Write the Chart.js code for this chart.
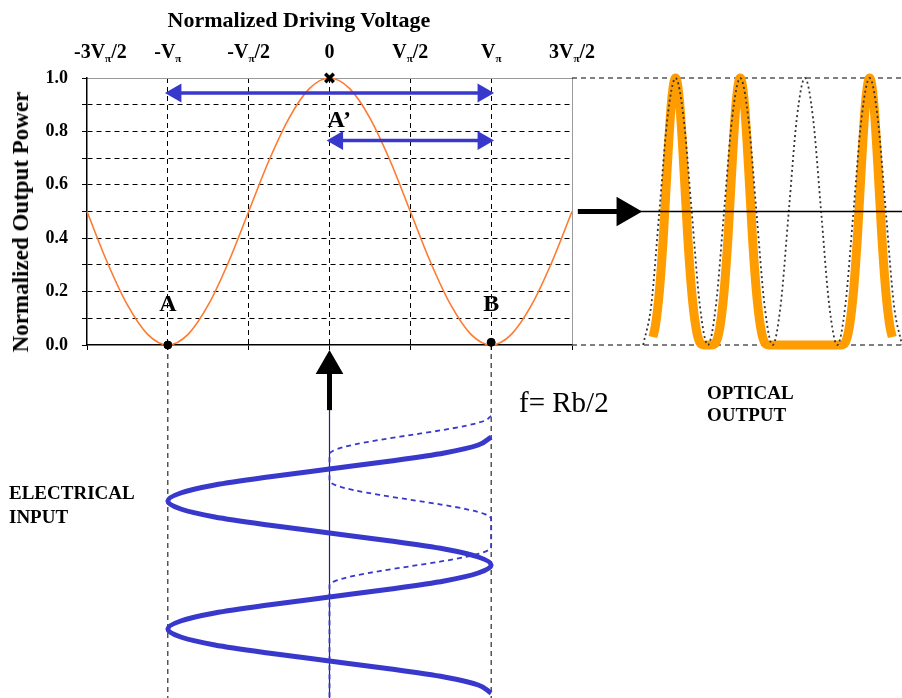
<!DOCTYPE html>
<html>
<head>
<meta charset="utf-8">
<script src="https://cdn.jsdelivr.net/npm/chart.js@4.4.1/dist/chart.umd.min.js"></script>
<style>
  body { margin: 0; background: #fff; }
  #wrap { position: relative; width: 902px; height: 698px; font-family: "Liberation Serif", "Times New Roman", serif; }
  #wrap canvas { position: absolute; left: 0; top: 0; }
  .lbl { position: absolute; white-space: nowrap; color: #000; }
  .b { font-weight: bold; }
</style>
</head>
<body>
<div id="wrap">
  <canvas id="mainChart" width="902" height="698"></canvas>
  <canvas id="inputChart" width="902" height="698"></canvas>
  <canvas id="outputChart" width="902" height="698"></canvas>

  <div class="lbl b" style="left:299px; top:20px; font-size:22px; transform:translate(-50%,-50%)">Normalized Driving Voltage</div>
  <div class="lbl b" style="left:21px; top:222px; font-size:23px; transform:translate(-50%,-50%) rotate(-90deg)">Normalized Output Power</div>
  <div class="lbl" style="left:519px; top:402px; font-size:29px; transform:translateY(-50%)">f= Rb/2</div>
  <div class="lbl b" style="left:707px; top:382px; font-size:19px; line-height:22px">OPTICAL<br>OUTPUT</div>
  <div class="lbl b" style="left:9px; top:481px; font-size:19px; line-height:24px">ELECTRICAL<br>INPUT</div>
</div>

<script>
/* TRANSFER CURVE (normalized voltage in units of V_pi) */

const voltage = [-1.5, -1.375, -1.25, -1.125, -1, -0.875, -0.75, -0.625, -0.5, -0.375, -0.25, -0.125,
  0, 0.125, 0.25, 0.375, 0.5, 0.625, 0.75, 0.875, 1, 1.125, 1.25, 1.375, 1.5];
const outputPower = [0.5, 0.31, 0.15, 0.04, 0, 0.04, 0.15, 0.31, 0.5, 0.69, 0.85, 0.96,
  1, 0.96, 0.85, 0.69, 0.5, 0.31, 0.15, 0.04, 0, 0.04, 0.15, 0.31, 0.5];

const voltageTicks = [-1.5, -1, -0.5, 0, 0.5, 1, 1.5];
const voltageTickLabels = ["-3Vπ/2", "-Vπ", "-Vπ/2", "0", "Vπ/2", "Vπ", "3Vπ/2"];

const swingArrowV = [-0.95, 0.95];
const swingArrowP = [0.944, 0.944];
const halfArrowV = [0.05, 0.95];
const halfArrowP = [0.766, 0.766];

const biasV = [0];
const biasP = [1];
const nullV = [-1, 1];
const nullP = [0, 0.01];

const markLabels = ["A", "A’", "B"];
const markLabelV = [-1, 0.06, 1];
const markLabelP = [0.15, 0.84, 0.15];

/* ELECTRICAL INPUT (time in bit periods, downwards) */

const inputTimeMin = -1.4375;
const inputTimeMax = 4.078;

const driveTime = [0, 0.125, 0.25, 0.375, 0.5, 0.625, 0.75, 0.875, 1, 1.125, 1.25, 1.375, 1.5, 1.625, 1.75, 1.875,
  2, 2.125, 2.25, 2.375, 2.5, 2.625, 2.75, 2.875, 3, 3.125, 3.25, 3.375, 3.5, 3.625, 3.75, 3.875, 4];
const driveVoltage = [1, 0.92, 0.71, 0.38, 0, -0.38, -0.71, -0.92, -1, -0.92, -0.71, -0.38, 0, 0.38, 0.71, 0.92,
  1, 0.92, 0.71, 0.38, 0, -0.38, -0.71, -0.92, -1, -0.92, -0.71, -0.38, 0, 0.38, 0.71, 0.92, 1];

const levelTime = [-0.33, -0.255, -0.18, -0.105, -0.03, 0.045, 0.12, 0.195, 0.27,
  0.68, 0.755, 0.83, 0.905, 0.98, 1.055, 1.13, 1.205, 1.28,
  1.72, 1.795, 1.87, 1.945, 2.02, 2.095, 2.17, 2.245, 2.32, 4.07];
const levelVoltage = [1, 0.96, 0.85, 0.69, 0.5, 0.31, 0.15, 0.04, 0,
  0, 0.04, 0.15, 0.31, 0.5, 0.69, 0.85, 0.96, 1,
  1, 0.96, 0.85, 0.69, 0.5, 0.31, 0.15, 0.04, 0, 0];

const upArrowTime = [-0.42, -1.11];
const centerLineTime = [-1.11, 4.078];

/* OPTICAL OUTPUT (time in bit periods) */

const outputTimeMin = -1.1;
const outputTimeMax = 4.0;

const refTime = [0, 0.125, 0.25, 0.375, 0.5, 0.625, 0.75, 0.875, 1, 1.125, 1.25, 1.375, 1.5, 1.625, 1.75, 1.875,
  2, 2.125, 2.25, 2.375, 2.5, 2.625, 2.75, 2.875, 3, 3.125, 3.25, 3.375, 3.5, 3.625, 3.75, 3.875, 4];
const refPower = [0, 0.15, 0.5, 0.85, 1, 0.85, 0.5, 0.15, 0, 0.15, 0.5, 0.85, 1, 0.85, 0.5, 0.15,
  0, 0.15, 0.5, 0.85, 1, 0.85, 0.5, 0.15, 0, 0.15, 0.5, 0.85, 1, 0.85, 0.5, 0.15, 0];

const pulseTime = [0.15, 0.1875, 0.25, 0.3125, 0.375, 0.4375, 0.5, 0.5625, 0.625, 0.6875, 0.75, 0.8125, 0.875, 0.9375,
  1, 1.0625, 1.125, 1.1875, 1.25, 1.3125, 1.375, 1.4375, 1.5, 1.5625, 1.625, 1.6875, 1.75, 1.8125, 1.875, 1.9375,
  2, 3, 3.0625, 3.125, 3.1875, 3.25, 3.3125, 3.375, 3.4375, 3.5, 3.5625, 3.625, 3.6875, 3.75, 3.8125, 3.85];
const pulsePower = [0.03, 0.07, 0.2, 0.41, 0.68, 0.91, 1, 0.91, 0.68, 0.41, 0.2, 0.07, 0.01, 0,
  0, 0, 0.01, 0.07, 0.2, 0.41, 0.68, 0.91, 1, 0.91, 0.68, 0.41, 0.2, 0.07, 0.01, 0,
  0, 0, 0, 0.01, 0.07, 0.2, 0.41, 0.68, 0.91, 1, 0.91, 0.68, 0.41, 0.2, 0.07, 0.03];

const biasArrowTime = [-1.01, -0.28];
const biasLineTime = [-0.28, 4.0];

/* HELPERS */

const SERIF = '"Liberation Serif", "Times New Roman", serif';
const BLUE = "#3838cc";

function pts(xs, ys) {
  return xs.map((v, i) => ({ x: v, y: ys[i] }));
}

function flat(xs, value) {
  return xs.map((v) => ({ x: v, y: value }));
}

function vertical(ts, value) {
  return ts.map((t) => ({ x: value, y: t }));
}

const baseOptions = {
  responsive: false,
  animation: false,
  events: [],
  clip: false,
  plugins: { legend: { display: false }, tooltip: { enabled: false } },
  elements: { point: { radius: 0 } }
};

/* TOP TICK LABELS WITH SUBSCRIPT PI */

const voltageLabelPlugin = {
  id: "voltageLabels",
  afterDraw(chart) {
    const { ctx, chartArea } = chart;
    const scale = chart.scales.x;
    const big = "bold 20px " + SERIF;
    const small = "bold 11px " + SERIF;
    const base = chartArea.top - 20;

    ctx.save();
    ctx.fillStyle = "#000";
    ctx.textBaseline = "alphabetic";
    ctx.textAlign = "left";

    voltageTicks.forEach((v, i) => {
      const parts = voltageTickLabels[i].split("π");
      ctx.font = big;
      const w0 = ctx.measureText(parts[0]).width;
      const w2 = parts.length > 1 ? ctx.measureText(parts[1]).width : 0;
      ctx.font = small;
      const w1 = parts.length > 1 ? ctx.measureText("π").width : 0;

      let left = scale.getPixelForValue(v) - (w0 + w1 + w2) / 2;
      if (i === 0) left = chartArea.left - 13;

      ctx.font = big;
      ctx.fillText(parts[0], left, base);
      if (parts.length > 1) {
        ctx.font = small;
        ctx.fillText("π", left + w0, base + 4);
        ctx.font = big;
        ctx.fillText(parts[1], left + w0 + w1, base);
      }
    });
    ctx.restore();
  }
};

const markLabelPlugin = {
  id: "markLabels",
  afterDatasetsDraw(chart) {
    const { ctx } = chart;
    const { x, y } = chart.scales;
    ctx.save();
    ctx.font = "bold 24px " + SERIF;
    ctx.fillStyle = "#000";
    ctx.textAlign = "center";
    ctx.textBaseline = "middle";
    markLabels.forEach((t, i) => {
      ctx.fillText(t, x.getPixelForValue(markLabelV[i]), y.getPixelForValue(markLabelP[i]));
    });
    ctx.restore();
  }
};

/* MAIN TRANSFER CHART */

const hideEdgeX = (c) => (c.tick && Math.abs(c.tick.value) === 1.5 ? "rgba(0,0,0,0)" : "#000");
const hideEdgeY = (c) => (c.tick && (c.tick.value <= 0 || c.tick.value >= 1) ? "rgba(0,0,0,0)" : "#000");

new Chart(document.getElementById("mainChart"), {
  type: "line",
  data: {
    datasets: [
      {
        data: pts(biasV, biasP),
        showLine: false,
        pointStyle: "crossRot",
        pointRadius: 6,
        pointBorderWidth: 3.5,
        pointBorderColor: "#000"
      },
      {
        data: pts(nullV, nullP),
        showLine: false,
        pointStyle: "circle",
        pointRadius: 4,
        pointBackgroundColor: "#000",
        pointBorderColor: "#000"
      },
      {
        data: pts(swingArrowV, swingArrowP),
        borderColor: BLUE,
        borderWidth: 3.5,
        pointStyle: "triangle",
        pointRadius: 7.5,
        pointRotation: [-90, 90],
        pointBackgroundColor: BLUE,
        pointBorderColor: BLUE
      },
      {
        data: pts(halfArrowV, halfArrowP),
        borderColor: BLUE,
        borderWidth: 3.5,
        pointStyle: "triangle",
        pointRadius: 7.5,
        pointRotation: [-90, 90],
        pointBackgroundColor: BLUE,
        pointBorderColor: BLUE
      },
      {
        data: pts(voltage, outputPower),
        borderColor: "#ff7a2f",
        borderWidth: 1.6,
        cubicInterpolationMode: "monotone"
      }
    ]
  },
  options: {
    ...baseOptions,
    layout: { autoPadding: false, padding: { left: 0, top: 78, right: 330, bottom: 348 } },
    scales: {
      x: {
        type: "linear",
        position: "bottom",
        min: -1.5,
        max: 1.5,
        afterFit: (s) => { s.height = 5; },
        ticks: { stepSize: 0.5, display: false },
        grid: { color: hideEdgeX, tickColor: "#000", tickLength: 5, lineWidth: 1 },
        border: { color: "#000", width: 1.5, dash: [5, 4] }
      },
      xTop: {
        type: "linear",
        position: "top",
        min: -1.5,
        max: 1.5,
        afterFit: (s) => { s.height = 0; },
        ticks: { display: false },
        grid: { display: false },
        border: { color: "#9a9a9a", width: 1 }
      },
      y: {
        type: "linear",
        position: "left",
        min: 0,
        max: 1,
        afterFit: (s) => { s.width = 87; },
        ticks: {
          stepSize: 0.1,
          autoSkip: false,
          padding: 14,
          color: "#000",
          font: { family: SERIF, size: 18, weight: "bold" },
          callback: (v) => (Math.round(v * 10) % 2 === 0 ? v.toFixed(1) : "")
        },
        grid: { color: hideEdgeY, tickColor: "#000", tickLength: 5, lineWidth: 1 },
        border: { color: "#000", width: 1.5, dash: [5, 4] }
      },
      yRight: {
        type: "linear",
        position: "right",
        min: 0,
        max: 1,
        afterFit: (s) => { s.width = 0; },
        ticks: { display: false },
        grid: { display: false },
        border: { color: "#9a9a9a", width: 1 }
      }
    }
  },
  plugins: [voltageLabelPlugin, markLabelPlugin]
});

/* ELECTRICAL INPUT CHART */

new Chart(document.getElementById("inputChart"), {
  type: "line",
  data: {
    datasets: [
      {
        data: vertical(upArrowTime, 0),
        borderColor: "#000",
        borderWidth: 5,
        pointStyle: "triangle",
        pointRadius: [0, 11],
        pointRotation: 0,
        pointBackgroundColor: "#000",
        pointBorderColor: "#000"
      },
      {
        data: pts(driveVoltage, driveTime),
        borderColor: BLUE,
        borderWidth: 5,
        cubicInterpolationMode: "monotone"
      },
      {
        data: pts(levelVoltage, levelTime),
        borderColor: BLUE,
        borderWidth: 1.8,
        borderDash: [5, 4],
        cubicInterpolationMode: "monotone"
      },
      {
        data: vertical(centerLineTime, 0),
        borderColor: "#23236e",
        borderWidth: 1.2
      },
      {
        data: vertical([inputTimeMin, inputTimeMax], -1),
        borderColor: "#000",
        borderWidth: 1,
        borderDash: [5, 4]
      },
      {
        data: vertical([inputTimeMin, inputTimeMax], 1),
        borderColor: "#000",
        borderWidth: 1,
        borderDash: [5, 4]
      }
    ]
  },
  options: {
    ...baseOptions,
    indexAxis: "y",
    layout: { autoPadding: false, padding: { left: 87, right: 330, top: 345, bottom: 0 } },
    scales: {
      x: { type: "linear", min: -1.5, max: 1.5, display: false },
      y: { type: "linear", min: inputTimeMin, max: inputTimeMax, reverse: true, display: false }
    }
  }
});

/* OPTICAL OUTPUT CHART */

new Chart(document.getElementById("outputChart"), {
  type: "line",
  data: {
    datasets: [
      {
        data: flat(biasArrowTime, 0.5),
        borderColor: "#000",
        borderWidth: 5,
        pointStyle: "triangle",
        pointRadius: [0, 12],
        pointRotation: 90,
        pointBackgroundColor: "#000",
        pointBorderColor: "#000"
      },
      {
        data: flat(biasLineTime, 0.5),
        borderColor: "#000",
        borderWidth: 1.5
      },
      {
        data: pts(refTime, refPower),
        borderColor: "#333",
        borderWidth: 1.8,
        borderDash: [2, 3],
        cubicInterpolationMode: "monotone"
      },
      {
        data: pts(pulseTime, pulsePower),
        borderColor: "#ff9c00",
        borderWidth: 9,
        cubicInterpolationMode: "monotone"
      },
      {
        data: flat([outputTimeMin, outputTimeMax], 1),
        borderColor: "#000",
        borderWidth: 1,
        borderDash: [5, 4]
      },
      {
        data: flat([outputTimeMin, outputTimeMax], 0),
        borderColor: "#000",
        borderWidth: 1,
        borderDash: [5, 4]
      }
    ]
  },
  options: {
    ...baseOptions,
    layout: { autoPadding: false, padding: { left: 572, right: 0, top: 78, bottom: 353 } },
    scales: {
      x: { type: "linear", min: outputTimeMin, max: outputTimeMax, display: false },
      y: { type: "linear", min: 0, max: 1, display: false }
    }
  }
});
</script>
</body>
</html>
